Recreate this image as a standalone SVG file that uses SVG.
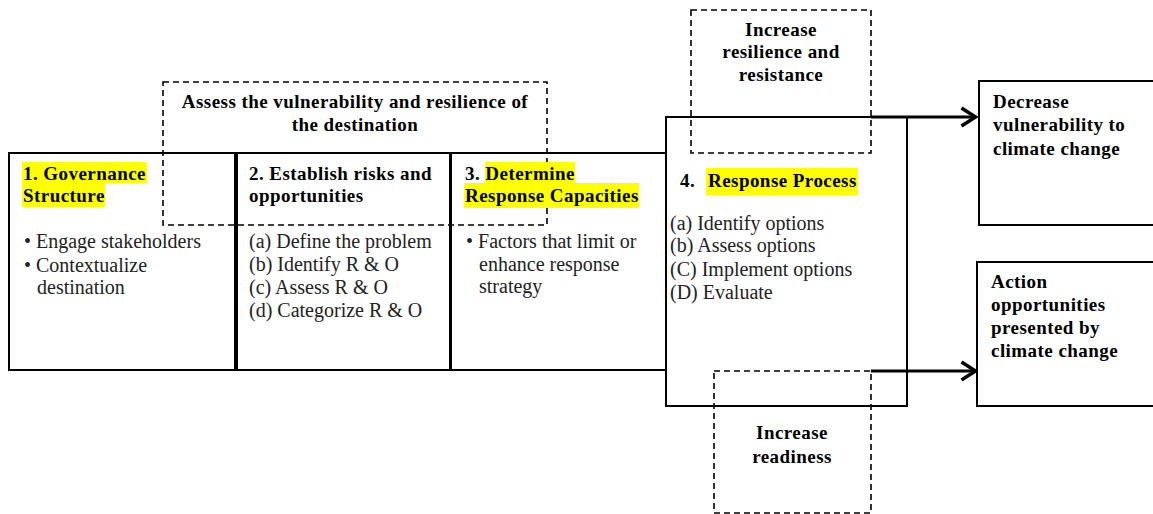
<svg xmlns="http://www.w3.org/2000/svg" width="1153" height="514" viewBox="0 0 1153 514">
<defs>
<style>
.box{fill:none;stroke:#000;stroke-width:2}
.dash{fill:none;stroke:#000;stroke-width:1.6;stroke-dasharray:6,4}
.hl{fill:#ffff00}
.b{font-family:"Liberation Serif","Times New Roman",serif;font-weight:bold;font-size:19px;letter-spacing:0.45px;fill:#000}
.t{font-family:"Liberation Serif","Times New Roman",serif;font-size:20px;fill:#222}
.c{text-anchor:middle}
.conn{fill:none;stroke:#000;stroke-width:3}
</style>
<marker id="arr" viewBox="0 0 18 22" refX="16.5" refY="11" markerWidth="18" markerHeight="22" markerUnits="userSpaceOnUse" orient="auto">
<path d="M2,2 L16,11 L2,20" fill="none" stroke="#000" stroke-width="3.4" stroke-linejoin="miter"/>
</marker>
</defs>
<rect width="1153" height="514" fill="#fff"/>

<g id="assess">
<rect x="163" y="82" width="384" height="143" class="dash"/>
<text class="b c" x="355" y="108">Assess the vulnerability and resilience of</text>
<text class="b c" x="355" y="131">the destination</text>
</g>

<g id="box1">
<rect x="9" y="153" width="226" height="217" class="box"/>
<rect x="22" y="162" width="125" height="21" class="hl"/>
<rect x="22" y="183" width="83" height="24" class="hl"/>
<text class="b" x="23" y="180">1. Governance</text>
<text class="b" x="23" y="202">Structure</text>
<text class="t" x="24" y="248">• Engage stakeholders</text>
<text class="t" x="24" y="272">• Contextualize</text>
<text class="t" x="37" y="294">destination</text>
</g>

<g id="box2">
<rect x="237" y="153" width="213" height="217" class="box"/>
<text class="b" x="249" y="180">2. Establish risks and</text>
<text class="b" x="249" y="202">opportunities</text>
<text class="t" x="249" y="248">(a) Define the problem</text>
<text class="t" x="249" y="271">(b) Identify R &amp; O</text>
<text class="t" x="249" y="294">(c) Assess R &amp; O</text>
<text class="t" x="249" y="317">(d) Categorize R &amp; O</text>
</g>

<g id="box3">
<rect x="451" y="153" width="215" height="217" class="box"/>
<rect x="485" y="162" width="90" height="21" class="hl"/>
<rect x="464" y="183" width="175" height="25" class="hl"/>
<text class="b" x="465" y="180">3. Determine</text>
<text class="b" x="465" y="202">Response Capacities</text>
<text class="t" x="466" y="248">• Factors that limit or</text>
<text class="t" x="479" y="271">enhance response</text>
<text class="t" x="479" y="293">strategy</text>
</g>

<g id="box4">
<rect x="666" y="117" width="241" height="289" class="box"/>
<rect x="706" y="168" width="152" height="27" class="hl"/>
<text class="b" x="680" y="187">4.</text>
<text class="b" x="708" y="187">Response Process</text>
<text class="t" x="670" y="230">(a) Identify options</text>
<text class="t" x="670" y="252">(b) Assess options</text>
<text class="t" x="670" y="276">(C) Implement options</text>
<text class="t" x="670" y="299">(D) Evaluate</text>
</g>

<g id="resilience">
<rect x="691" y="10" width="180" height="143" class="dash"/>
<text class="b c" x="781" y="36">Increase</text>
<text class="b c" x="781" y="58">resilience and</text>
<text class="b c" x="781" y="81">resistance</text>
</g>

<g id="readiness">
<rect x="714" y="371" width="157" height="142" class="dash"/>
<text class="b c" x="792" y="439">Increase</text>
<text class="b c" x="792" y="463">readiness</text>
</g>

<g id="decrease">
<rect x="979" y="81" width="180" height="144" class="box"/>
<text class="b" x="993" y="108">Decrease</text>
<text class="b" x="993" y="131">vulnerability to</text>
<text class="b" x="993" y="155">climate change</text>
</g>

<g id="action">
<rect x="977" y="262" width="182" height="144" class="box"/>
<text class="b" x="991" y="288">Action</text>
<text class="b" x="991" y="311">opportunities</text>
<text class="b" x="991" y="334">presented by</text>
<text class="b" x="991" y="357">climate change</text>
</g>

<g id="connectors">
<line x1="871" y1="117" x2="976" y2="117" class="conn" marker-end="url(#arr)"/>
<line x1="871" y1="371" x2="976" y2="371" class="conn" marker-end="url(#arr)"/>
</g>
</svg>
